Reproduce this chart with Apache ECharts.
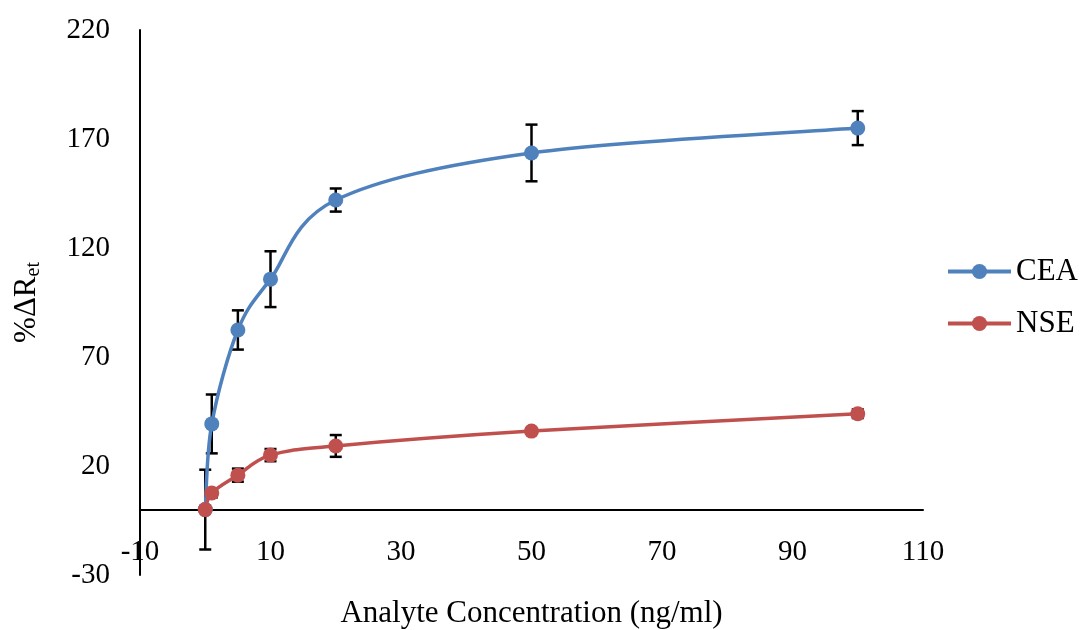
<!DOCTYPE html>
<html>
<head>
<meta charset="utf-8">
<script src="https://cdn.jsdelivr.net/npm/echarts@6/dist/echarts.min.js"></script>
<style>
  html, body { margin: 0; padding: 0; background: #ffffff; }
  #chart { width: 1080px; height: 630px; }
</style>
</head>
<body>
<div id="chart"></div>
<script>
// Concentrations (ng/ml)
const concentrations = [0, 1, 5, 10, 20, 50, 100];
// Mean %ΔRet response per analyte
const ceaValues = [0, 39.3, 82.4, 105.7, 142, 163.6, 175];
const nseValues = [0, 7.6, 15.8, 25, 29.2, 36, 44];
// Error bar half-widths (±)
const ceaErrors = [18.3, 13.5, 9, 12.8, 5.3, 13, 7.8];
const nseErrors = [0.5, 2, 3, 2.8, 5, 1, 2];

const xTicks = { min: -10, max: 110, step: 20 };
const yTicks = { min: -30, max: 220, step: 50 };

const FONT = '"Liberation Serif", "Times New Roman", serif';
const CEA_COLOR = '#4F81BD';
const NSE_COLOR = '#C0504D';

function pairs(xs, ys) {
  return xs.map((x, i) => [x, ys[i]]);
}
function errorRows(xs, ys, es) {
  return xs.map((x, i) => [x, ys[i] - es[i], ys[i] + es[i]]);
}

function renderErrorBar(params, api) {
  const x = api.value(0);
  const lo = api.coord([x, api.value(1)]);
  const hi = api.coord([x, api.value(2)]);
  const cap = 6;
  const style = { stroke: '#000000', lineWidth: 2.5 };
  return {
    type: 'group',
    children: [
      { type: 'line', shape: { x1: lo[0], y1: lo[1], x2: hi[0], y2: hi[1] }, style: style },
      { type: 'line', shape: { x1: lo[0] - cap, y1: lo[1], x2: lo[0] + cap, y2: lo[1] }, style: style },
      { type: 'line', shape: { x1: hi[0] - cap, y1: hi[1], x2: hi[0] + cap, y2: hi[1] }, style: style }
    ]
  };
}

// Smoothed connector: one cubic Bezier segment per data interval,
// control points taken from neighbouring points (Catmull-Rom style) in screen space.
function smoothSegment(xs, ys, color) {
  return function (params, api) {
    const i = params.dataIndex;
    const n = xs.length;
    if (i >= n - 1) return null;
    const pt = (k) => api.coord([xs[Math.max(0, Math.min(n - 1, k))], ys[Math.max(0, Math.min(n - 1, k))]]);
    const p0 = pt(i - 1), p1 = pt(i), p2 = pt(i + 1), p3 = pt(i + 2);
    const t = 1 / 6;
    return {
      type: 'bezierCurve',
      shape: {
        x1: p1[0], y1: p1[1],
        x2: p2[0], y2: p2[1],
        cpx1: p1[0] + (p2[0] - p0[0]) * t, cpy1: p1[1] + (p2[1] - p0[1]) * t,
        cpx2: p2[0] - (p3[0] - p1[0]) * t, cpy2: p2[1] - (p3[1] - p1[1]) * t
      },
      style: { stroke: color, lineWidth: 3.5, fill: null, lineCap: 'round' }
    };
  };
}

const chart = echarts.init(document.getElementById('chart'), null, { renderer: 'canvas' });

chart.setOption({
  backgroundColor: '#ffffff',
  animation: false,
  textStyle: { fontFamily: FONT },
  grid: { left: 140, right: 157, top: 30, bottom: 55, containLabel: false, outerBoundsMode: 'none' },
  legend: {
    orient: 'vertical',
    left: 946,
    top: 256,
    padding: 0,
    itemWidth: 63,
    itemHeight: 19,
    itemGap: 21,
    data: ['CEA', 'NSE'],
    lineStyle: { width: 4, opacity: 1 },
    textStyle: { fontFamily: FONT, fontSize: 31, color: '#000000' }
  },
  xAxis: {
    type: 'value',
    min: xTicks.min,
    max: xTicks.max,
    interval: xTicks.step,
    name: 'Analyte Concentration (ng/ml)',
    nameLocation: 'middle',
    nameGap: 23,
    nameTextStyle: { fontFamily: FONT, fontSize: 31, color: '#000000' },
    axisLine: { onZero: true, lineStyle: { color: '#000000', width: 2 } },
    axisTick: { show: false },
    splitLine: { show: false },
    axisLabel: { fontFamily: FONT, fontSize: 29, color: '#000000', margin: -37 }
  },
  yAxis: {
    type: 'value',
    min: yTicks.min,
    max: yTicks.max,
    interval: yTicks.step,
    name: '{main|%ΔR}{sub|et}',
    nameLocation: 'middle',
    nameGap: 96,
    nameTextStyle: {
      fontFamily: FONT,
      color: '#000000',
      rich: {
        main: { fontFamily: FONT, fontSize: 31, color: '#000000' },
        sub: { fontFamily: FONT, fontSize: 20, color: '#000000', padding: [14, 0, 0, 0] }
      }
    },
    axisLine: { show: true, onZero: false, lineStyle: { color: '#000000', width: 2 } },
    axisTick: { show: false },
    splitLine: { show: false },
    axisLabel: { fontFamily: FONT, fontSize: 29, color: '#000000', margin: 30 }
  },
  series: [
    {
      name: 'CEA errors',
      type: 'custom',
      z: 1,
      renderItem: renderErrorBar,
      data: errorRows(concentrations, ceaValues, ceaErrors),
      encode: { x: 0, y: [1, 2] },
      silent: true
    },
    {
      name: 'NSE errors',
      type: 'custom',
      z: 1,
      renderItem: renderErrorBar,
      data: errorRows(concentrations, nseValues, nseErrors),
      encode: { x: 0, y: [1, 2] },
      silent: true
    },
    {
      name: 'CEA curve',
      type: 'custom',
      z: 2,
      renderItem: smoothSegment(concentrations, ceaValues, CEA_COLOR),
      data: pairs(concentrations, ceaValues),
      encode: { x: 0, y: 1 },
      silent: true
    },
    {
      name: 'NSE curve',
      type: 'custom',
      z: 2,
      renderItem: smoothSegment(concentrations, nseValues, NSE_COLOR),
      data: pairs(concentrations, nseValues),
      encode: { x: 0, y: 1 },
      silent: true
    },
    {
      name: 'CEA',
      type: 'line',
      z: 3,
      symbol: 'circle',
      symbolSize: 15,
      data: pairs(concentrations, ceaValues),
      lineStyle: { color: CEA_COLOR, width: 3.5, opacity: 0 },
      itemStyle: { color: CEA_COLOR }
    },
    {
      name: 'NSE',
      type: 'line',
      z: 3,
      symbol: 'circle',
      symbolSize: 15,
      data: pairs(concentrations, nseValues),
      lineStyle: { color: NSE_COLOR, width: 3.5, opacity: 0 },
      itemStyle: { color: NSE_COLOR }
    }
  ]
});
</script>
</body>
</html>
